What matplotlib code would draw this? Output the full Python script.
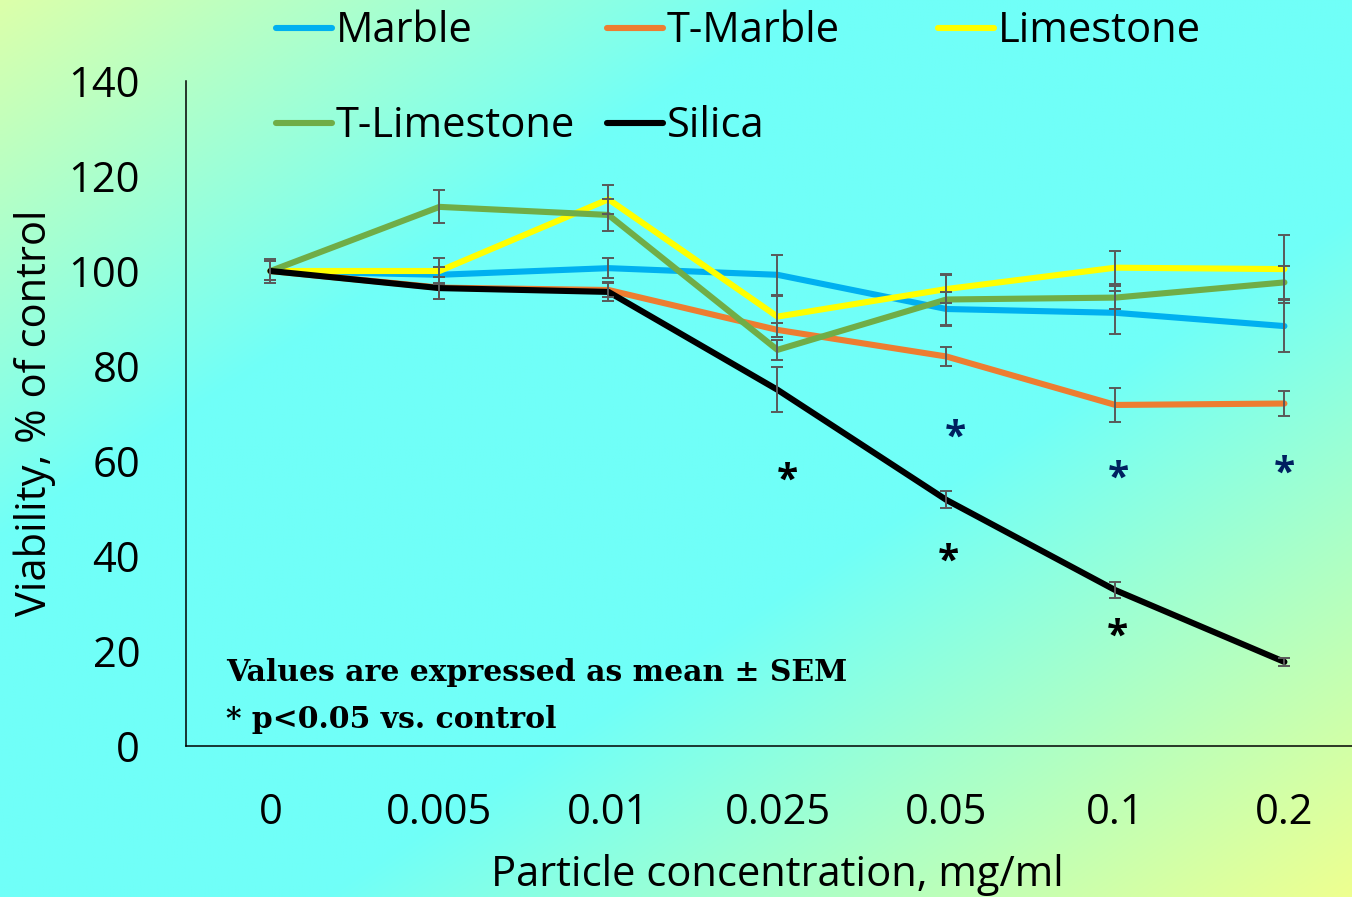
import numpy as np
import matplotlib
matplotlib.use("Agg")
import matplotlib.pyplot as plt
from matplotlib.lines import Line2D
from matplotlib import transforms

# --- data ---
concentrations = ["0", "0.005", "0.01", "0.025", "0.05", "0.1", "0.2"]
series_names = ["Marble", "T-Marble", "Limestone", "T-Limestone", "Silica"]
series_colors = ["#00B0F0", "#ED7D31", "#FFFF00", "#70AD47", "#000000"]

marble = [100.0, 99.2, 100.6, 99.2, 92.0, 91.2, 88.4]
t_marble = [100.0, 96.5, 96.0, 87.6, 82.0, 71.8, 72.1]
limestone = [100.0, 100.0, 115.1, 90.4, 96.2, 100.7, 100.4]
t_limestone = [100.0, 113.5, 111.8, 83.4, 94.0, 94.4, 97.6]
silica = [100.0, 96.4, 95.6, 75.0, 51.8, 32.8, 17.7]

marble_sem = [2.0, 1.7, 2.1, 4.2, 3.5, 4.5, 5.5]
t_marble_sem = [2.5, 2.3, 1.5, 1.5, 2.0, 3.5, 2.7]
limestone_sem = [2.0, 2.7, 3.0, 4.3, 3.0, 3.5, 7.1]
t_limestone_sem = [2.0, 3.5, 3.4, 2.1, 5.4, 2.5, 3.5]
silica_sem = [2.0, 2.3, 2.0, 4.7, 1.8, 1.7, 0.8]

# significance markers: (category position, value, colour)
star_x = [3.06, 4.01, 5.01, 4.05, 5.02, 6.0]
star_y = [57.7, 40.6, 25.0, 66.9, 58.1, 59.2]
star_colors = ["black", "black", "black", "#002060", "#002060", "#002060"]

values = [marble, t_marble, limestone, t_limestone, silica]
sems = [marble_sem, t_marble_sem, limestone_sem, t_limestone_sem, silica_sem]
draw_order = [0, 1, 3, 2, 4]

FONT = "Open Sans"
FS = 30
W, H = 1352, 897

fig = plt.figure(figsize=(W / 100, H / 100), dpi=100)

# gradient background
bg = fig.add_axes([0, 0, 1, 1], zorder=-10)
xx, yy = np.meshgrid(np.linspace(0, 1, 400), np.linspace(0, 1, 300))
t = (xx + yy) / 2
stops = [0.0, 0.3, 0.62, 1.0]
cols = np.array([[0xDC, 0xFF, 0xAA], [0x70, 0xFF, 0xF8],
                 [0x70, 0xFF, 0xF8], [0xEE, 0xFF, 0x90]]) / 255
img = np.dstack([np.interp(t, stops, cols[:, k]) for k in range(3)])
bg.imshow(img, aspect="auto", extent=[0, 1, 0, 1], origin="upper")
bg.axis("off")

ax = fig.add_axes([186 / W, 1 - 746 / H, 1 - 186 / W, (746 - 81) / H])
ax.set_facecolor("none")
x = np.arange(len(concentrations))

for i in draw_order:
    ax.plot(x, values[i], color=series_colors[i], linewidth=4.4,
            solid_capstyle="round", zorder=3 + i * 0.1)
for i in draw_order:
    ax.errorbar(x, values[i], yerr=sems[i], fmt="none", ecolor="#595959",
                elinewidth=1.4, capsize=4.5, capthick=1.4, zorder=5)

star_tr = transforms.offset_copy(ax.transData, fig=fig, y=-20, units="dots")
for sx, sy, sc in zip(star_x, star_y, star_colors):
    ax.text(sx, sy, "*", color=sc, fontsize=28, fontweight="bold",
            family=FONT, ha="center", va="baseline", transform=star_tr)

ax.set_xlim(-0.5, 6.4)
ax.set_ylim(0, 140)
ax.set_yticks(np.arange(0, 141, 20))
ax.set_xticks(x)
ax.set_xticklabels(concentrations)
ax.tick_params(length=0, labelsize=FS)
ax.tick_params(axis="y", pad=33)
ax.tick_params(axis="x", pad=33)
for lab in ax.get_xticklabels() + ax.get_yticklabels():
    lab.set_family(FONT)
for s in ["top", "right"]:
    ax.spines[s].set_visible(False)
for s in ["left", "bottom"]:
    ax.spines[s].set_color("black")
    ax.spines[s].set_linewidth(1.1)

fig.text(777 / W, 1 - 886 / H, "Particle concentration, mg/ml", ha="center",
         va="baseline", fontsize=FS, family=FONT)
fig.text(35 / W, 1 - 413 / H, "Viability, % of control", ha="center",
         va="center", rotation=90, fontsize=FS, family=FONT)

ax.text(226 / W, 1 - 681 / H, "Values are expressed as mean \u00b1 SEM",
        transform=fig.transFigure, fontsize=21.5, fontweight="bold",
        family="DejaVu Serif", va="baseline")
ax.text(226 / W, 1 - 728 / H, "* p<0.05 vs. control",
        transform=fig.transFigure, fontsize=21.5, fontweight="bold",
        family="DejaVu Serif", va="baseline")

# legend laid out in fixed-width columns
for i, name in enumerate(series_names):
    col, row = i % 3, i // 3
    x0 = 276 + 331 * col
    yl = 28 + 95 * row
    fig.add_artist(Line2D([x0 / W, (x0 + 56) / W], [1 - yl / H, 1 - yl / H],
                          transform=fig.transFigure, color=series_colors[i],
                          linewidth=4.4, solid_capstyle="round"))
    fig.text((x0 + 60) / W, 1 - (yl + 14) / H, name, fontsize=FS,
             family=FONT, va="baseline", ha="left")

fig.savefig("out.png", dpi=100)
